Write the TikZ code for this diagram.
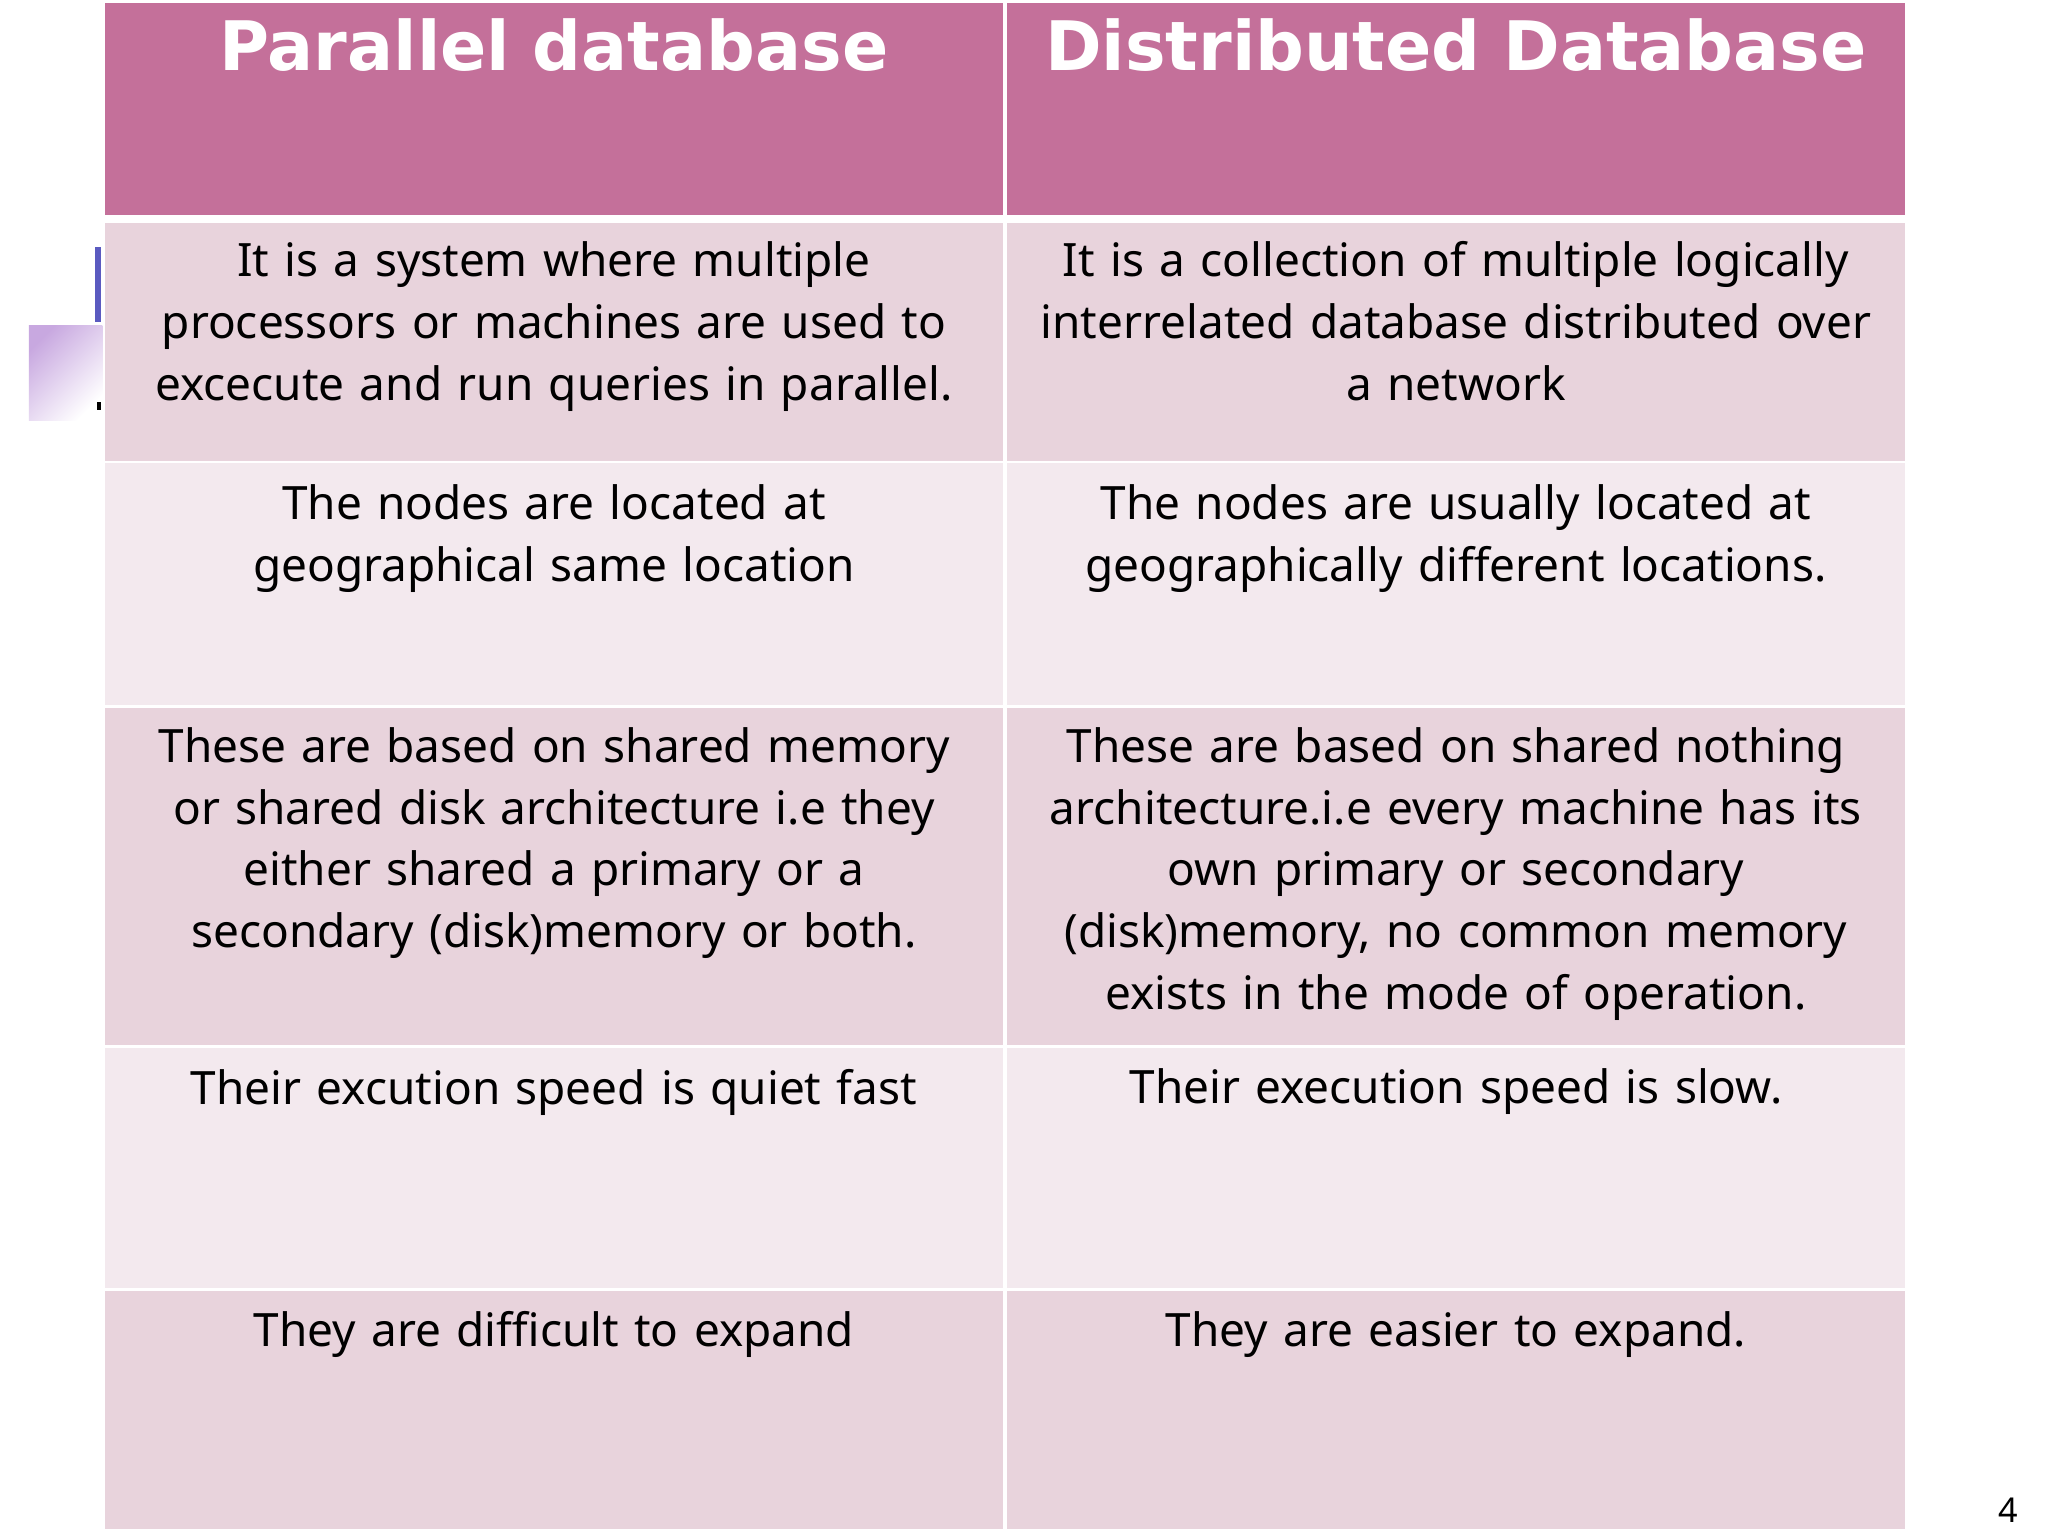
\documentclass[tikz,border=0pt]{standalone}
\usepackage{fontspec}
\setmainfont{Noto Sans}
\newfontfamily\hdrfont{DejaVu Sans}
\definecolor{hdr}{HTML}{C4709A}
\definecolor{rowA}{HTML}{E8D3DC}
\definecolor{rowB}{HTML}{F3E9EE}
\definecolor{barblue}{HTML}{5A5AC0}
\definecolor{sqpurple}{HTML}{C8A8E0}
\begin{document}
\begin{tikzpicture}[x=1pt,y=-1pt,
  cell/.style={anchor=north,text width=680pt,align=center,inner sep=0pt,font=\fontsize{35}{47}\selectfont},
  head/.style={anchor=north,text width=690pt,align=center,inner sep=0pt,text=white,font=\hdrfont\bfseries\fontsize{52}{60}\selectfont}]
\useasboundingbox (0,0) rectangle (1560,1170);
\fill[white] (0,0) rectangle (1560,1170);
% decoration
\fill[barblue] (72,188) rectangle (77,245);
\shade[left color=sqpurple,right color=white,shading angle=45] (22,248) rectangle (78,320);
\fill[black] (74,306) rectangle (77,312);
% cells
\fill[hdr] (80,2) rectangle (764,164); \fill[hdr] (767,2) rectangle (1451,164);
\foreach \t/\b/\c in {170/351/rowA,353/537/rowB,539/796/rowA,798/981/rowB,983/1165/rowA}{
  \fill[\c] (80,\t) rectangle (764,\b);
  \fill[\c] (767,\t) rectangle (1451,\b);
}
\node[head] (h1) at (422,14) {Parallel database};
\node[head] (h2) at (1109,14) {Distributed Database};
\node[cell] (a1) at (422,184) {It is a system where multiple\\ processors or machines are used to\\ excecute and run queries in parallel.};
\node[cell] (b1) at (1109,184) {It is a collection of multiple logically\\ interrelated database distributed over\\ a network};
\node[cell] (a2) at (422,369) {The nodes are located at\\ geographical same location};
\node[cell] (b2) at (1109,369) {The nodes are usually located at\\ geographically different locations.};
\node[cell] (a3) at (422,554) {These are based on shared memory\\ or shared disk architecture i.e they\\ either shared a primary or a\\ secondary (disk)memory or both.};
\node[cell] (b3) at (1109,554) {These are based on shared nothing\\ architecture.i.e every machine has its\\ own primary or secondary\\ (disk)memory, no common memory\\ exists in the mode of operation.};
\node[cell] (a4) at (422,814) {Their excution speed is quiet fast};
\node[cell] (b4) at (1109,814) {Their execution speed is slow.};
\node[cell] (a5) at (422,999) {They are difficult to expand};
\node[cell] (b5) at (1109,999) {They are easier to expand.};
\node[font=\fontsize{26}{30}\selectfont,inner sep=0pt] (pg) at (1530,1150) {4};
\end{tikzpicture}
\end{document}
